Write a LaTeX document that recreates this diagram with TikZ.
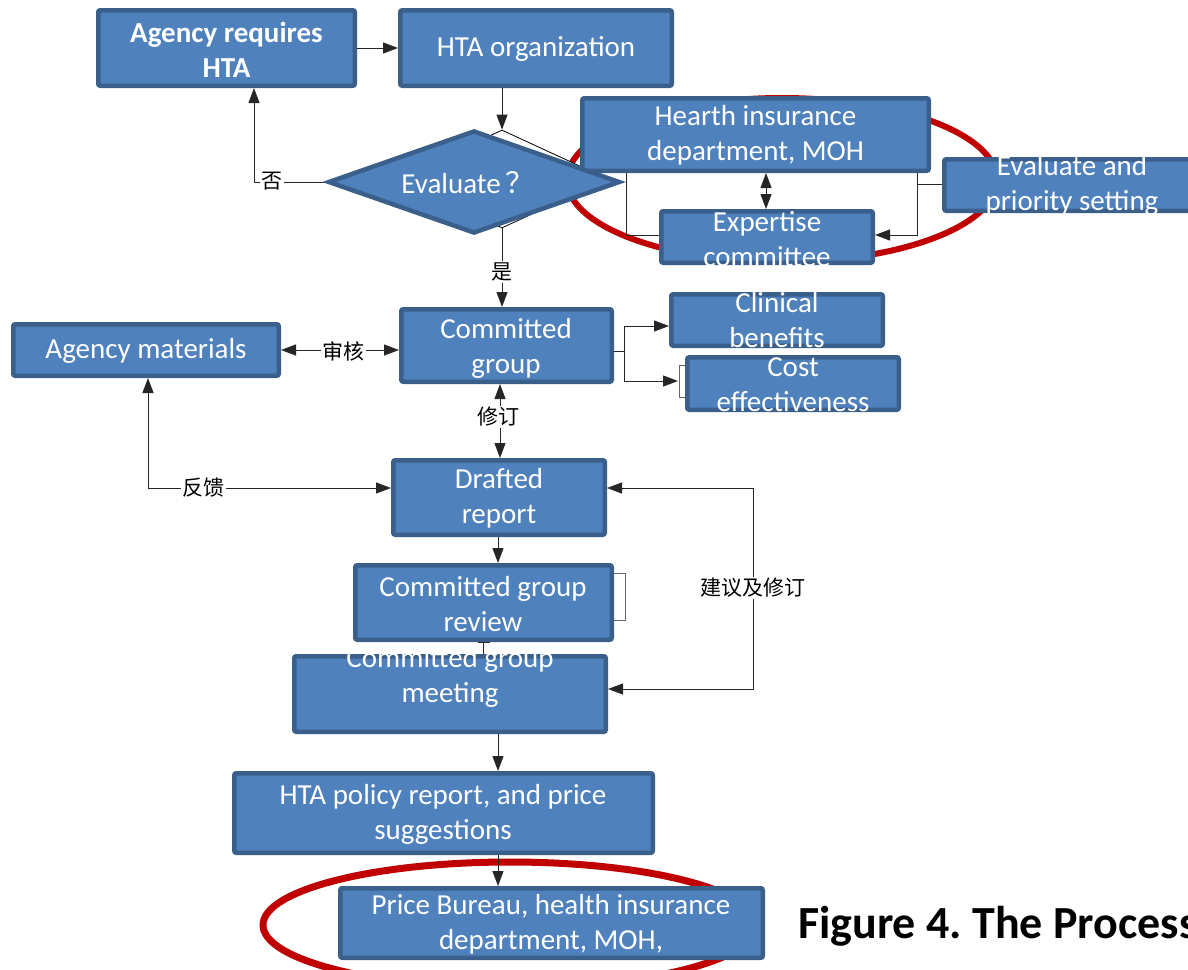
\documentclass[tikz,border=0pt]{standalone}
\usepackage{fontspec}
\setmainfont{Carlito}
\newfontfamily\cjk{Noto Sans CJK SC}
\usetikzlibrary{arrows.meta,shapes.geometric}
\definecolor{boxfill}{HTML}{4F81BD}
\definecolor{boxedge}{HTML}{3A5F8B}
\definecolor{ringred}{HTML}{C00000}
\newcommand{\boxfont}{\fontsize{29}{35}\selectfont}
\newcommand{\labfont}{\cjk\fontsize{21}{21}\selectfont}
\newcommand{\capfont}{\fontsize{46}{52}\selectfont\bfseries\frenchspacing}

\begin{document}
\begin{tikzpicture}[x=1pt,y=-1pt,
  box/.style={draw=boxedge, fill=boxfill, line width=4.5pt, rounded corners=2pt, inner sep=0pt},
  txt/.style={text=white, font=\boxfont, align=center, inner sep=0pt},
  wire/.style={draw=black!85, line width=1pt},
  arr/.style={wire, -{Triangle[length=15pt,width=11pt]}},
  arrtwo/.style={wire, {Triangle[length=15pt,width=11pt]}-{Triangle[length=15pt,width=11pt]}},
  lab/.style={fill=white, font=\labfont, inner sep=1.5pt},
  ring/.style={draw=ringred, line width=6pt},
  thinbracket/.style={draw=black!60, line width=1pt}
]
\useasboundingbox (0,0) rectangle (1188,969);

% highlight rings behind the boxes
\draw[ring] (782,180) ellipse [x radius=215pt, y radius=82pt];
\draw[ring, line width=7pt] (510,925) ellipse [x radius=247pt, y radius=63pt];

% decision outline behind the main diamond
\node[draw=black, fill=white, line width=0.8pt, diamond, inner sep=0pt,
      minimum width=212pt, minimum height=98pt] (dtwo) at (502,179) {};

% boxes
\node[box, minimum width=256.5pt, minimum height=75.5pt] (ar)  at (226.5,48) {};
\node[box, minimum width=271.5pt, minimum height=75.5pt] (org) at (536,48) {};
\node[box, minimum width=346.5pt, minimum height=72.5pt] (hid) at (755.5,134.5) {};
\node[box, minimum width=211.5pt, minimum height=51.5pt] (exp) at (767,237) {};
\node[box, minimum width=249.5pt, minimum height=51.5pt] (eps) at (1069,185) {};
\node[box, minimum width=210.5pt, minimum height=72.5pt] (cg)  at (506.5,345.5) {};
\node[box, minimum width=265.5pt, minimum height=51.5pt] (am)  at (146,350) {};
\node[box, minimum width=211.5pt, minimum height=51.5pt] (cb)  at (777,320) {};
\node[box, minimum width=211.5pt, minimum height=52.5pt] (ce)  at (793,383.5) {};
\node[box, minimum width=211.5pt, minimum height=74.5pt] (dr)  at (499,497.5) {};
\node[box, minimum width=256.5pt, minimum height=74.5pt] (rv)  at (483.5,602.5) {};
\node[box, minimum width=311.5pt, minimum height=75.5pt] (mt)  at (450,694) {};
\node[box, minimum width=418.5pt, minimum height=79.5pt] (pol) at (443.5,813) {};
\node[box, minimum width=422.5pt, minimum height=69.5pt] (pb)  at (551.5,923) {};

% routing points
\coordinate (noturn) at (254,182);
\coordinate (rx) at (500,0);
\coordinate (cx) at (498,0);
\coordinate (fb) at (148,488);
\coordinate (sgtop) at (753,488);
\coordinate (sgbot) at (753,689);
\coordinate (hx) at (766,0);
\coordinate (hl) at (626,235);
\coordinate (hr) at (917,235);
\coordinate (cgb) at (624,351);
\coordinate (cbj) at (624,326);
\coordinate (cej) at (624,381);
\coordinate (cetip) at (678,381);
\coordinate (bta) at (679,365);
\coordinate (btb) at (679,397);
\coordinate (rva) at (625,573);
\coordinate (rvb) at (625,620);

% connectors
\draw[arr] (ar.east |- 0,48) -- (org.west);
\draw[arr] (org.south -| dtwo.north) -- (dtwo.north);
\draw[arr] (324,182) -- (noturn) -- (noturn |- ar.south);
\draw[arr] (dtwo.south) -- (dtwo.south |- cg.north);
\draw[arrtwo] (am.east) -- (am.east -| cg.west);
\draw[arrtwo] (cg.south -| rx) -- (dr.north -| rx);
\draw[arrtwo] (am.south -| fb) -- (fb) -- (fb -| dr.west);
\draw[arrtwo] (sgtop -| dr.east) -- (sgtop) -- (sgbot) -- (sgbot -| mt.east);
\draw[arr] (dr.south -| cx) -- (rv.north -| cx);
\draw[wire] (rv.south) -- (rv.south |- mt.north);
\draw[wire] ([xshift=-6pt]rv.south) -- ([xshift=6pt]rv.south);
\draw[arr] (mt.south -| cx) -- (pol.north -| cx);
\draw[arr] (pol.south -| cx) -- (pb.north -| cx);
\draw[thinbracket] (rv.east |- rva) -- (rva) -- (rvb) -- (rv.east |- rvb);

\draw[arrtwo] (hid.south -| hx) -- (exp.north -| hx);
\draw[wire] (hid.south -| hl) -- (hl) -- (exp.west |- hl);
\draw[arr] (hid.south -| hr) -- (hr) -- (exp.east |- hr);
\draw[wire] (eps.west |- 0,184) -- (hr |- 0,184);

\draw[wire] (cg.east |- cgb) -- (cgb);
\draw[arr] (cgb) -- (cbj) -- (cbj -| cb.west);
\draw[arr] (cgb) -- (cej) -- (cetip);
\draw[thinbracket] (ce.west |- bta) -- (bta) -- (btb) -- (ce.west |- btb);

% decision diamond
\node[box, diamond, rounded corners=0pt, minimum width=292pt, minimum height=103pt] (dia) at (474,182) {};

% box texts
\node[txt, font=\boxfont\bfseries] (tar) at (226.5,50) {Agency requires\\HTA};
\node[txt] (torg) at (536,49) {HTA organization};
\node[txt] (thid) at (755.5,135) {Hearth insurance\\department, MOH};
\node[txt] (texp) at (767,239) {Expertise\\committee};
\node[txt] (teps) at (1072,185) {Evaluate and\\priority setting};
\node[txt] (tdia) at (468,183) {Evaluate\,{\cjk ？}};
\node[txt] (tcg)  at (506,348) {Committed\\group};
\node[txt] (tam)  at (146,351) {Agency materials};
\node[txt] (tcb)  at (777,320) {Clinical\\benefits};
\node[txt] (tce)  at (793,385) {Cost\\effectiveness};
\node[txt] (tdr)  at (499,498) {Drafted\\report};
\node[txt] (trv)  at (483,604) {Committed group\\review};
\node[txt] (tmt)  at (450,677) {Committed group\\meeting};
\node[txt] (tpol) at (443,814) {HTA policy report, and price\\suggestions};
\node[txt] (tpb)  at (551,924) {Price Bureau, health insurance\\department, MOH,};

% connector labels
\node[lab] (lno)  at (272,181) {否};
\node[lab] (lyes) at (502,272) {是};
\node[lab] (lrev) at (343,351) {审核};
\node[lab] (lmod) at (498,417) {修订};
\node[lab] (lfb)  at (203,488) {反馈};
\node[lab] (lsug) at (753,588) {建议及修订};

% caption
\node[anchor=base west, inner sep=0pt, font=\capfont] (cap) at (798,938) {Figure 4. The Process};
\end{tikzpicture}
\end{document}
